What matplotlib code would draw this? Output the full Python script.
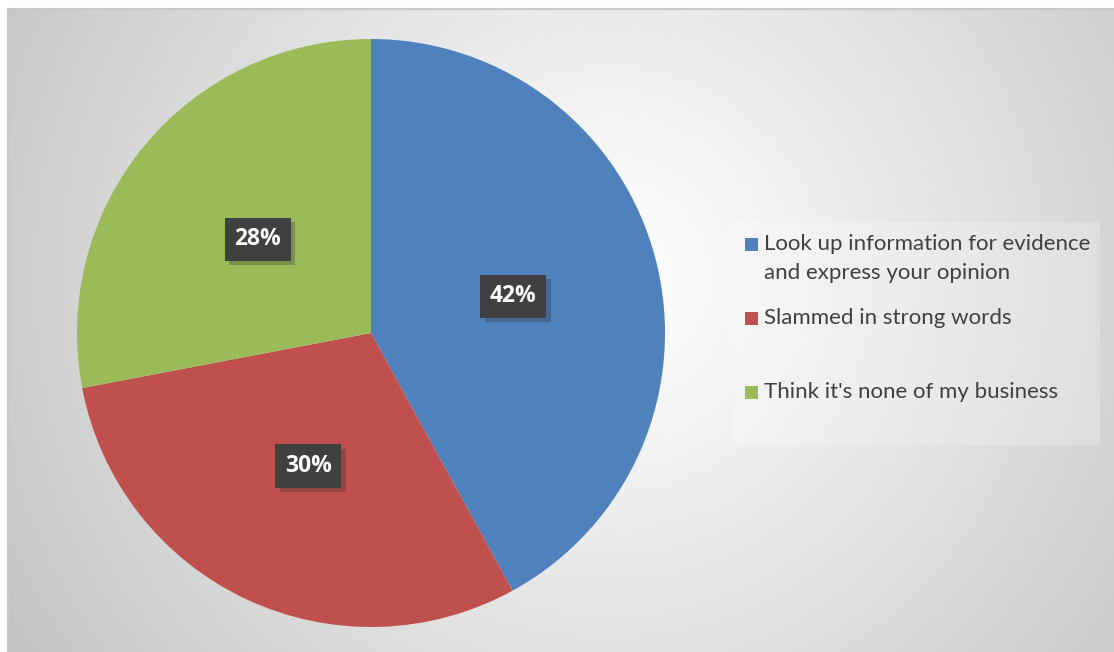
import numpy as np
import matplotlib
matplotlib.use("Agg")
import matplotlib.pyplot as plt
from matplotlib.patches import Rectangle
import matplotlib.patheffects as pe

categories = ["Look up information for evidence\nand express your opinion",
              "Slammed in strong words",
              "Think it's none of my business"]
values = [42, 30, 28]
colors = ["#4F81BD", "#C0504D", "#9BBB59"]

W, H = 1114, 652
fig = plt.figure(figsize=(W / 100, H / 100), dpi=100)
fig.patch.set_facecolor("white")

# background radial gradient (chart area)
bg = fig.add_axes([8 / W, 0, (W - 8) / W, (H - 9) / H])
bg.set_axis_off()
yy, xx = np.mgrid[0:H - 9, 0:W - 8]
cx, cy = 600, 270
d = np.sqrt((xx - cx) ** 2 + (yy - cy) ** 2) / 700.0
d = np.clip(d, 0, 1)
g = 1.0 - (1.0 - 0.77) * d ** 1.1
img = np.dstack([g, g, g])
bg.imshow(img, aspect="auto", extent=[0, 1, 0, 1], origin="upper")
bg.set_xlim(0, 1)
bg.set_ylim(0, 1)
bg.plot([0, 1], [1, 1], color="#c8c8c8", lw=1.5, transform=bg.transAxes, clip_on=False)
bg.plot([0, 0], [0, 1], color="#c8c8c8", lw=1.5, transform=bg.transAxes, clip_on=False)

# pie axes
cxp, cyp, r = 371, 333, 294
ax = fig.add_axes([(cxp - r) / W, (H - cyp - r) / H, 2 * r / W, 2 * r / H])
ax.set_axis_off()
wedges, texts, autotexts = ax.pie(values, colors=colors, startangle=90, counterclock=False,
                                  radius=1.0, autopct="%d%%", pctdistance=0.5,
                                  wedgeprops=dict(linewidth=0))
ax.set_xlim(-1, 1)
ax.set_ylim(-1, 1)
for t in autotexts:
    t.set_color("white")
    t.set_fontsize(16.5)
    t.set_fontweight("bold")
    t.set_fontfamily("Open Sans")
    t.set_bbox(dict(boxstyle="square,pad=0.42", facecolor="#404040", edgecolor="none"))
    t.get_bbox_patch().set_path_effects([pe.SimplePatchShadow(offset=(3, -3), alpha=0.3, shadow_rgbFace="#303030"), pe.Normal()])

# legend
lx0, ly0, lx1, ly1 = 732, 222, 1100, 445
fig.patches.append(Rectangle((lx0 / W, 1 - ly1 / H), (lx1 - lx0) / W, (ly1 - ly0) / H,
                             transform=fig.transFigure, facecolor="white", alpha=0.22,
                             edgecolor="none", zorder=1))
rows = [244.5, 318, 392]
for lab, col, yc in zip(categories, colors, rows):
    fig.patches.append(Rectangle((745 / W, 1 - (yc + 6.5) / H), 13 / W, 13 / H,
                                 transform=fig.transFigure, facecolor=col, edgecolor="none", zorder=2))
    lines = lab.split("\n")
    for i, ln in enumerate(lines):
        fig.text(764 / W, 1 - (yc + 28.5 * i) / H, ln, fontsize=16, color="#404040",
                 family="Lato", va="center", ha="left", zorder=3)

fig.savefig("out.png", dpi=100)
